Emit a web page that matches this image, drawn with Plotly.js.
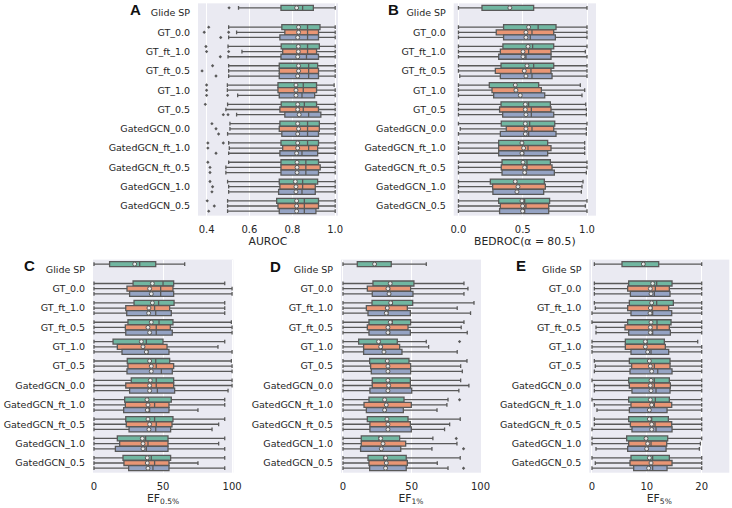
<!DOCTYPE html>
<html><head><meta charset="utf-8">
<script src="https://cdn.plot.ly/plotly-3.0.1.min.js"></script>
<style>html,body{margin:0;padding:0;background:#fff}#chart{width:732px;height:508px}</style>
</head><body><div id="chart"></div>
<script>
// ---------- categories & series ----------
const MODELS = ['Glide SP','GT_0.0','GT_ft_1.0','GT_ft_0.5','GT_1.0','GT_0.5','GatedGCN_0.0','GatedGCN_ft_1.0','GatedGCN_ft_0.5','GatedGCN_1.0','GatedGCN_0.5'];
const SERIES = ['series 1','series 2','series 3'];
const COLORS = ['#71b6a1','#e99675','#95a3c3'];

// each row = one model; values per series [series1, series2, series3] (Glide SP has series1 only)
// ---------- AUROC ----------
const AUROC_LO = [[.549],[.503,.54,.503],[.50,.565,.50],[.503,.503,.503],[.497,.497,.545],[.498,.49,.54],[.509,.509,.498],[.503,.506,.503],[.503,.49,.49],[.498,.503,.503],[.498,.498,.498]];
const AUROC_Q1 = [[.747],[.751,.765,.742],[.748,.755,.747],[.739,.739,.739],[.733,.733,.739],[.748,.742,.765],[.742,.739,.751],[.747,.755,.742],[.747,.747,.747],[.739,.742,.736],[.727,.733,.739]];
const AUROC_MED = [[.848],[.871,.871,.871],[.871,.871,.866],[.876,.876,.876],[.851,.851,.845],[.856,.851,.876],[.871,.871,.871],[.871,.876,.845],[.863,.863,.863],[.848,.848,.845],[.856,.856,.856]];
const AUROC_Q3 = [[.898],[.929,.922,.922],[.926,.913,.922],[.918,.922,.922],[.913,.913,.904],[.913,.922,.933],[.926,.926,.922],[.922,.918,.918],[.922,.930,.922],[.918,.907,.907],[.922,.922,.91]];
const AUROC_HI = [[1],[1,1,1],[1,1,1],[1,1,1],[.995,1,1],[1,1,1],[1,1,1],[1,1,1],[1,1,1],[1,1,1],[1,1,1]];
const AUROC_MEAN = [[.820],[.829,.829,.825],[.828,.828,.825],[.829,.829,.825],[.817,.817,.817],[.825,.825,.832],[.825,.829,.825],[.825,.825,.820],[.822,.822,.822],[.814,.817,.817],[.820,.820,.820]];
const AUROC_OUT = [[[.505]],[[.41],[.389,.503],[.466]],[[.397],[.40,.503],[.464]],[[.428],[.379],[.444]],[[.40],[.40],[.40,.498]],[[.394],[],[.478,.50]],[[.425],[.444],[.456]],[[.406,.478],[.406],[.444]],[[.406],[.416],[.416]],[[.416],[.428],[.425]],[[.403],[.436],[.41]]];

// ---------- BEDROC ----------
const BEDROC_LO = [[0],[0,0,0],[0,0,0],[0,0,.01],[0,0,0],[0,0,0],[0,.014,0],[0,0,0],[0,0,0],[0,0,0],[0,0,0]];
const BEDROC_Q1 = [[.183],[.351,.294,.351],[.346,.326,.313],[.331,.287,.326],[.24,.261,.274],[.331,.32,.344],[.333,.372,.326],[.313,.313,.313],[.339,.333,.339],[.248,.266,.268],[.313,.326,.32]];
const BEDROC_MED = [[.403],[.62,.572,.559],[.577,.546,.525],[.585,.564,.572],[.442,.442,.489],[.546,.567,.567],[.554,.572,.546],[.502,.541,.507],[.533,.533,.525],[.45,.463,.455],[.515,.525,.515]];
const BEDROC_Q3 = [[.585],[.759,.741,.754],[.741,.72,.72],[.741,.72,.728],[.624,.645,.671],[.715,.72,.741],[.749,.741,.759],[.694,.72,.694],[.715,.728,.746],[.668,.676,.663],[.709,.702,.702]];
const BEDROC_HI = [[1],[1,1,1],[1,.987,1],[1,1,1],[.948,.982,.961],[.99,.995,.995],[1,.995,.995],[.982,.982,.982],[1,1,.995],[.969,.961,.956],[1,.987,1]];
const BEDROC_MEAN = [[.40],[.546,.525,.525],[.541,.502,.502],[.533,.512,.525],[.442,.447,.481],[.52,.52,.525],[.52,.525,.52],[.494,.507,.494],[.502,.515,.515],[.442,.463,.455],[.494,.499,.499]];
const BEDROC_OUT = [[[]],[[],[],[]],[[],[],[]],[[],[],[]],[[],[],[]],[[],[],[]],[[],[],[]],[[],[],[]],[[],[],[]],[[],[],[]],[[],[],[]]];

// ---------- EF 0.5% ----------
const EF05_LO = [[0],[0,0,0],[0,0,0],[0,0,0],[0,0,0],[0,0,0],[0,0,0],[0,0,0],[0,0,0],[0,0,0],[0,0,0]];
const EF05_Q1 = [[11.3],[28.3,23.9,25.8],[29,23,23.7],[24.6,22.7,23],[13.8,16.9,20.3],[24.1,24.6,23.9],[27,23,25.8],[22.2,22.7,21.5],[23,23.4,25.4],[16.9,18.6,15.5],[21,21.7,25.1]];
const EF05_MED = [[33.1],[50,48.3,48.3],[46.8,43.9,44.7],[47.1,45.1,45.1],[37.9,36.2,39.1],[44.7,45.1,48.8],[45.1,45.1,45.9],[39.1,43.9,40.3],[43.9,45.1,44.7],[37.4,39.1,37.9],[41.5,43.9,42.7]];
const EF05_Q3 = [[44.7],[57.7,57.2,57.7],[58,54.8,56],[57.2,55.3,56.7],[50,52.9,54.3],[54.8,57.7,56.7],[57.7,57.7,58.4],[56,54.3,54.3],[57.2,56.5,55.5],[53.6,53.6,53.6],[55.5,54.3,54.3]];
const EF05_HI = [[65.7],[94.7,100,100],[94.7,94.7,94.7],[99.5,100,100],[94.7,89.8,100],[99.5,100,100],[100,100,97.1],[94.7,94.7,75.3],[94.7,90.3,85.5],[94.7,90.3,94.7],[94.7,75.3,94.7]];
const EF05_MEAN = [[29.5],[42.3,40.3,41.5],[42.3,39.8,39.6],[41.5,39.1,40.3],[34.3,35.5,37.9],[40.3,41.5,41.5],[40.8,40.3,40.3],[38.4,39.1,38.6],[39.1,40.3,39.8],[35,35.5,35.5],[38.6,38.6,39.1]];
const EF05_OUT = BEDROC_OUT;

// ---------- EF 1% ----------
const EF1_LO = EF05_LO;
const EF1_Q1 = [[10.4],[21.8,17.7,21.3],[21.1,17,18.2],[18.9,17.7,18.9],[11.4,15,15],[19.4,20.1,20.6],[21.3,21.3,19.6],[18.9,15.3,17],[17.7,19.6,19.6],[13.3,13.3,12.8],[18.2,18.9,19.4]];
const EF1_MED = [[23.5],[35.1,33.9,34.4],[35.9,31.5,32.7],[35.9,33.4,33.9],[26.7,28.4,30.3],[32.7,33.4,33.4],[33.4,33.9,33.4],[30.3,32.2,31],[32.2,32.7,32.7],[26.2,29.1,27.9],[29.8,31.5,31.5]];
const EF1_Q3 = [[35.1],[51.6,49.2,50.9],[50.7,46.8,49],[49.2,47.3,49],[39.5,41.2,42.9],[48,49.2,49.2],[49,49,50],[44.4,49.7,43.9],[47.3,49,49.7],[41.2,45.6,42],[46,46.8,46]];
const EF1_HI = [[60.6],[88,90.9,88],[95.3,83.1,92.8],[88,86,90.4],[60.6,62.3,83.1],[90.2,85.6,86.8],[85.6,91.6,84.3],[76.4,75.6,68.4],[85.3,77.6,73.9],[65.4,82.9,64.7],[85.3,68.6,76.4]];
const EF1_MEAN = [[23],[34.4,32.7,33.5],[34.7,32.2,31.5],[34.4,32.7,32.7],[25.9,27.4,29.8],[32.2,32.7,32.7],[32.7,33.2,32.7],[30.3,31.5,30.3],[32,32.7,32.7],[27.4,29.1,27.9],[31,31.5,31]];
const EF1_OUT = [[[]],[[],[],[]],[[],[],[]],[[],[],[]],[[84.8],[],[]],[[],[],[]],[[],[],[]],[[84.8],[],[]],[[],[],[]],[[82.4],[],[87.7]],[[],[],[87.7]]];

// ---------- EF 5% ----------
const EF5_LO = [[.43],[.43,.43,.43],[.43,.6,0],[0,.73,.73],[0,0,0],[.43,.6,.43],[0,.43,.43],[0,.43,.91],[.43,.43,0],[0,0,.73],[0,.6,0]];
const EF5_Q1 = [[5.47],[6.69,6.5,7],[6.81,6.5,7.11],[6.5,6.02,6.69],[6.08,6.08,7.11],[6.81,7.23,6.93],[6.69,6.81,7.29],[6.69,7.11,6.81],[6.69,7,7.29],[6.32,6.69,6.5],[7.11,6.93,7.6]];
const EF5_MED = [[9.54],[11.79,11.55,11.37],[11.79,10.94,11.06],[11.85,11.85,11.06],[10.03,9.85,10.76],[10.46,11.37,11.98],[11.37,11.37,11.67],[11.55,11.37,10.58],[10.88,11.49,11.67],[9.73,10.76,10.15],[11.06,10.76,11.06]];
const EF5_Q3 = [[12.16],[14.59,14.1,14.22],[14.83,13.98,14.53],[14.41,14.1,14.29],[13.19,13.37,13.98],[14.22,14.22,14.59],[14.1,14.29,14.22],[14.1,14.53,13.68],[13.92,14.53,14.59],[13.8,13.62,13.5],[14.1,14.59,13.68]];
const EF5_HI = [[20],[20,20,20],[20,20,20],[20,20,20],[19.27,20,20],[20,20,20],[20,20,20],[20,20,20],[20,20,20],[20,19.76,19.57],[20,20,20]];
const EF5_MEAN = [[9.36],[11.06,10.64,10.76],[10.88,10.64,10.58],[10.76,10.64,10.64],[9.73,9.73,10.15],[10.46,10.64,10.88],[10.76,10.64,10.76],[10.64,10.88,10.46],[10.46,10.88,10.88],[9.85,10.15,9.97],[10.46,10.76,10.33]];
const EF5_OUT = BEDROC_OUT;

// ---------- axis labels / ticks ----------
const PANEL_LETTERS = ['A','B','C','D','E'];
const X_TITLES = ['AUROC','BEDROC(α = 80.5)','EF<sub>0.5%</sub>','EF<sub>1%</sub>','EF<sub>5%</sub>'];
const X_TICKS = [[0.4,0.6,0.8,1.0],[0.0,0.5,1.0],[0,50,100],[0,50,100],[0,10,20]];

// ---------- layout geometry (pixels) ----------
const W = 732, H = 508;
const PANELS = [
  {stats:[AUROC_LO,AUROC_Q1,AUROC_MED,AUROC_Q3,AUROC_HI,AUROC_MEAN,AUROC_OUT], px:[198,338], py:[3.35,215.65], range:[0.36,1.013], fmt:'.1f', letter:[135,10]},
  {stats:[BEDROC_LO,BEDROC_Q1,BEDROC_MED,BEDROC_Q3,BEDROC_HI,BEDROC_MEAN,BEDROC_OUT], px:[453.7,596], py:[3.35,215.65], range:[-0.037,1.07], fmt:'.1f', letter:[393,10]},
  {stats:[EF05_LO,EF05_Q1,EF05_MED,EF05_Q3,EF05_HI,EF05_MEAN,EF05_OUT], px:[93,233.3], py:[259.6,472.7], range:[-0.72,100.9], fmt:'d', letter:[29,265]},
  {stats:[EF1_LO,EF1_Q1,EF1_MED,EF1_Q3,EF1_HI,EF1_MEAN,EF1_OUT], px:[341,481], py:[259.6,472.7], range:[-1.45,100.4], fmt:'d', letter:[275.5,266]},
  {stats:[EF5_LO,EF5_Q1,EF5_MED,EF5_Q3,EF5_HI,EF5_MEAN,EF5_OUT], px:[589.3,729.3], py:[259.6,472.7], range:[-0.49,25.03], fmt:'d', letter:[520.5,265]}
];

const OFFSET = 0.267, BOXW = 0.258;
const GRAY = '#595959';
const traces = [];
const layout = {
  width: W, height: H,
  margin: {l:0, r:0, t:0, b:0},
  paper_bgcolor: '#ffffff', plot_bgcolor: '#eaeaf2',
  font: {family: 'DejaVu Sans', size: 10, color: '#262626'},
  showlegend: false, boxmode: 'overlay',
  annotations: []
};

PANELS.forEach((p, k) => {
  const sfx = k === 0 ? '' : String(k + 1);
  const xa = 'x' + sfx, ya = 'y' + sfx;
  const [LO, Q1, MED, Q3, HI, MEAN, OUT] = p.stats;
  for (let h = 0; h < 3; h++) {
    const pos = [], q1 = [], med = [], q3 = [], lo = [], hi = [], mean = [], ox = [], oy = [];
    MODELS.forEach((m, i) => {
      if (Q1[i][h] === undefined) return;
      const y = i + (h - 1) * OFFSET;
      pos.push(y); q1.push(Q1[i][h]); med.push(MED[i][h]); q3.push(Q3[i][h]);
      lo.push(LO[i][h]); hi.push(HI[i][h]); mean.push(MEAN[i][h]);
      const o = OUT[i] && OUT[i][h];
      if (o) o.forEach(v => { ox.push(v); oy.push(y); });
    });
    traces.push({
      type: 'box', orientation: 'h', name: SERIES[h], xaxis: xa, yaxis: ya,
      y: pos, q1: q1, median: med, q3: q3, lowerfence: lo, upperfence: hi,
      width: BOXW, whiskerwidth: 0.75, boxpoints: false,
      fillcolor: COLORS[h], line: {color: GRAY, width: 1.3},
      hoverinfo: 'skip', showlegend: false
    });
    traces.push({
      type: 'scatter', mode: 'markers', xaxis: xa, yaxis: ya, x: mean, y: pos,
      marker: {symbol: 'circle', size: 4, color: 'rgba(240,240,240,0.9)', line: {color: GRAY, width: 1}},
      hoverinfo: 'skip', showlegend: false, cliponaxis: false
    });
    if (ox.length) traces.push({
      type: 'scatter', mode: 'markers', xaxis: xa, yaxis: ya, x: ox, y: oy,
      marker: {symbol: 'diamond', size: 2.6, color: GRAY},
      hoverinfo: 'skip', showlegend: false
    });
  }
  layout['xaxis' + sfx] = {
    domain: [p.px[0] / W, p.px[1] / W], anchor: ya, range: p.range,
    tickmode: 'array', tickvals: X_TICKS[k], tickformat: p.fmt,
    showgrid: true, gridcolor: '#ffffff', gridwidth: 1, zeroline: false, showline: false,
    ticks: 'outside', ticklen: 4, tickcolor: 'rgba(0,0,0,0)',
    tickfont: {size: 10, color: '#262626'},
    title: {text: X_TITLES[k], font: {size: 10.8, color: '#262626'}, standoff: 3},
    fixedrange: true
  };
  layout['yaxis' + sfx] = {
    domain: [1 - p.py[1] / H, 1 - p.py[0] / H], anchor: xa, range: [10.5, -0.5],
    tickmode: 'array', tickvals: MODELS.map((m, i) => i), ticktext: MODELS,
    showgrid: false, zeroline: false, showline: false,
    ticks: 'outside', ticklen: 5, tickcolor: 'rgba(0,0,0,0)',
    tickfont: {size: 9.5, color: '#262626'}, fixedrange: true
  };
  layout.annotations.push({
    text: '<b>' + PANEL_LETTERS[k] + '</b>', xref: 'paper', yref: 'paper',
    x: p.letter[0] / W, y: 1 - p.letter[1] / H, xanchor: 'center', yanchor: 'middle',
    showarrow: false, font: {family: 'Liberation Sans', size: 15, color: '#111111'}
  });
});

Plotly.newPlot('chart', traces, layout, {staticPlot: true, displayModeBar: false});
</script>
</body></html>
